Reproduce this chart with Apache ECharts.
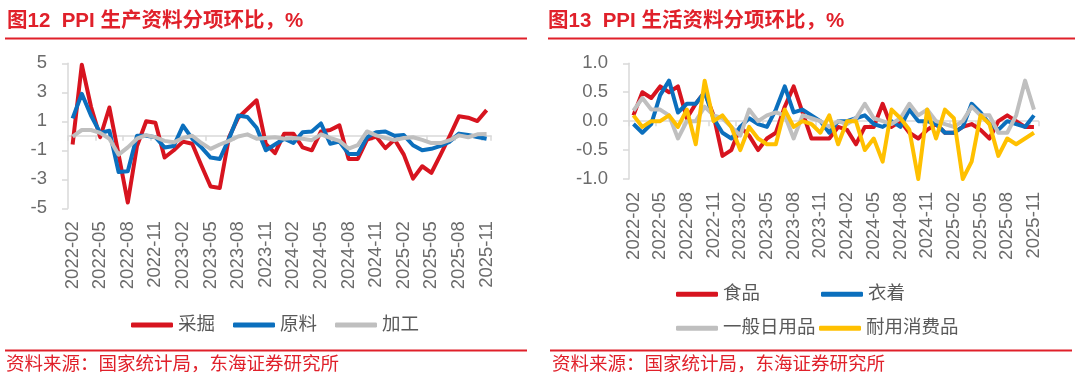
<!DOCTYPE html>
<html>
<head>
<meta charset="utf-8">
<script src="https://cdn.jsdelivr.net/npm/echarts@6/dist/echarts.min.js"></script>
<style>
html,body{margin:0;padding:0;background:#ffffff;}
#chart{width:1080px;height:381px;}
</style>
</head>
<body>
<div id="chart"></div>
<script>
// ---------- data ----------
const months = [
  '2022-02','2022-03','2022-04','2022-05','2022-06','2022-07','2022-08','2022-09','2022-10','2022-11','2022-12',
  '2023-01','2023-02','2023-03','2023-04','2023-05','2023-06','2023-07','2023-08','2023-09','2023-10','2023-11','2023-12',
  '2024-01','2024-02','2024-03','2024-04','2024-05','2024-06','2024-07','2024-08','2024-09','2024-10','2024-11','2024-12',
  '2025-01','2025-02','2025-03','2025-04','2025-05','2025-06','2025-07','2025-08','2025-09','2025-10','2025-11'
];

// 图12 PPI 生产资料分项环比 (%)
const mining     = [-0.6, 4.9, 2.0, -0.1, 1.95, -1.3, -4.6, -0.7, 1.0, 0.9, -1.5, -1.0, -0.4, -0.55, -2.05, -3.5, -3.6, -0.1, 1.25, 1.85, 2.45, -0.55, -1.2, 0.15, 0.15, -0.8, -1.0, 0.3, 0.4, 0.72, -1.6, -1.6, -0.27, -0.05, -0.85, -0.25, -1.3, -2.95, -2.1, -2.55, -1.3, 0.0, 1.35, 1.25, 1.02, 1.77];
const rawMat     = [1.2, 2.9, 1.4, 0.2, 0.35, -2.5, -2.45, 0.0, 0.0, -0.1, -0.8, -0.7, 0.7, -0.2, -0.8, -1.5, -1.6, -0.2, 1.4, 1.3, 0.55, -1.0, -0.6, -0.2, -0.5, 0.25, 0.3, 0.85, -0.55, -0.4, -1.25, -1.25, -0.1, 0.25, 0.3, 0.0, 0.05, -0.65, -1.0, -0.9, -0.7, -0.4, 0.15, 0.05, -0.08, -0.2];
const processing = [-0.05, 0.4, 0.4, 0.2, -0.2, -1.3, -0.8, -0.2, 0.05, -0.1, -0.35, -0.45, -0.15, 0.0, -0.5, -0.9, -0.6, -0.35, -0.05, 0.1, -0.2, -0.15, -0.1, -0.2, -0.15, -0.2, -0.3, 0.1, -0.15, -0.35, -0.88, -0.64, 0.3, 0.03, -0.15, -0.3, -0.15, -0.1, -0.28, -0.5, -0.5, -0.3, 0.03, -0.1, 0.1, 0.12];

// 图13 PPI 生活资料分项环比 (%)
const food     = [0.1, 0.5, 0.4, 0.6, 0.5, 0.6, 0.05, 0.3, 0.5, 0.1, -0.6, -0.5, -0.1, -0.25, -0.5, -0.3, -0.2, 0.25, 0.6, 0.15, -0.3, -0.3, -0.3, -0.1, -0.15, -0.4, -0.1, -0.1, 0.3, -0.1, 0.0, -0.2, -0.3, -0.15, -0.05, -0.2, -0.2, -0.1, -0.05, -0.15, -0.3, 0.0, 0.1, 0.0, -0.1, -0.1];
const clothing = [-0.05, -0.2, -0.05, 0.45, 0.7, 0.15, 0.3, 0.3, 0.5, 0.05, -0.2, -0.3, -0.1, 0.05, -0.05, -0.1, 0.2, 0.6, 0.15, 0.2, 0.1, 0.0, -0.2, 0.0, 0.0, 0.05, 0.1, -0.05, -0.1, 0.0, -0.1, 0.2, 0.0, 0.0, -0.05, -0.2, -0.2, -0.1, 0.3, 0.15, -0.05, -0.15, 0.0, -0.05, -0.1, 0.1];
const dailyUse = [0.18, 0.4, 0.2, 0.2, 0.1, -0.3, 0.0, 0.0, 0.25, 0.1, 0.05, -0.1, -0.25, 0.2, 0.0, 0.1, 0.15, 0.1, -0.3, 0.1, 0.05, 0.0, -0.1, 0.0, -0.05, 0.05, 0.3, 0.05, 0.0, -0.05, 0.05, 0.3, 0.1, 0.2, 0.0, -0.05, -0.1, 0.0, 0.25, 0.1, 0.1, -0.2, -0.2, 0.1, 0.7, 0.2];
const durable  = [0.1, -0.1, 0.0, 0.0, 0.1, -0.1, 0.2, -0.4, 0.7, 0.0, 0.1, -0.1, -0.5, -0.1, -0.3, -0.4, -0.4, 0.2, -0.1, 0.0, -0.05, -0.2, 0.1, -0.4, 0.0, 0.0, -0.5, -0.3, -0.7, 0.2, 0.05, -0.15, -1.0, 0.2, -0.3, 0.2, 0.05, -1.0, -0.7, 0.1, -0.05, -0.6, -0.3, -0.4, -0.3, -0.2];

const leftNames  = ['采掘', '原料', '加工'];
const rightNames = ['食品', '衣着', '一般日用品', '耐用消费品'];
const titles  = ['图12  PPI 生产资料分项环比，%', '图13  PPI 生活资料分项环比，%'];
const sourceText = '资料来源：国家统计局，东海证券研究所';

// ---------- styles ----------
const RED = '#d7141f', BLUE = '#0b6fbd', GREY = '#bfbfbf', YELLOW = '#ffc000';
const ACCENT = '#e0202a';
const AXIS = '#d9d9d9';
const LABEL = '#6b6b6b';
const LATIN = '"Liberation Sans", "Noto Sans CJK SC", sans-serif';
const FS = 18.5;

function catAxisLabels(gridIndex) {
  return {
    gridIndex: gridIndex, type: 'category', data: months, boundaryGap: true, position: 'bottom',
    axisLine: { show: false, onZero: false }, axisTick: { show: false },
    axisLabel: { interval: 2, rotate: 90, margin: 13, fontSize: FS, color: LABEL, fontFamily: LATIN },
    splitLine: { show: false }
  };
}
function catAxisZero(gridIndex) {
  return {
    gridIndex: gridIndex, type: 'category', data: months, boundaryGap: true, position: 'bottom',
    axisLine: { show: true, onZero: true, lineStyle: { color: AXIS, width: 1.5 } },
    axisTick: { show: true, interval: 2, length: 5, lineStyle: { color: AXIS, width: 1.5 } },
    axisLabel: { show: false }, splitLine: { show: false }
  };
}
function valAxis(gridIndex, min, max, interval, fmt) {
  return {
    gridIndex: gridIndex, type: 'value', min: min, max: max, interval: interval,
    axisLine: { show: true, lineStyle: { color: AXIS, width: 1.5 } },
    axisTick: { show: true, length: 6, lineStyle: { color: AXIS, width: 1.5 } },
    axisLabel: { margin: 21, fontSize: FS, color: LABEL, fontFamily: LATIN, formatter: fmt },
    splitLine: { show: false }
  };
}
function lineSeries(name, data, color, xi, yi) {
  return {
    type: 'line', name: name, data: data, xAxisIndex: xi, yAxisIndex: yi,
    symbol: 'none', smooth: false,
    lineStyle: { width: 4, color: color, join: 'round' },
    itemStyle: { color: color }
  };
}
function legendAt(names, left, top, gap) {
  return {
    data: names, left: left, top: top, orient: 'horizontal',
    icon: 'roundRect', itemWidth: 42, itemHeight: 5, itemGap: gap,
    textStyle: { fontSize: FS, color: '#595959', fontFamily: LATIN, lineHeight: 20 },
    selectedMode: false
  };
}
function text(str, x, y, font, fill) {
  return { type: 'text', x: x, y: y, silent: true,
    style: { text: str, font: font, fill: fill, verticalAlign: 'middle', textVerticalAlign: 'middle' } };
}
function bar(x, y, w, h) {
  return { type: 'rect', silent: true, shape: { x: x, y: y, width: w, height: h }, style: { fill: ACCENT } };
}

const chart = echarts.init(document.getElementById('chart'), null, { renderer: 'canvas' });
chart.setOption({
  animation: false,
  backgroundColor: '#ffffff',
  textStyle: { fontFamily: LATIN },
  grid: [
    { left: 68, top: 63.3, width: 423.2, height: 145, outerBoundsMode: 'none', containLabel: false },
    { left: 629, top: 63.3, width: 409.4, height: 115.7, outerBoundsMode: 'none', containLabel: false }
  ],
  xAxis: [catAxisLabels(0), catAxisZero(0), catAxisLabels(1), catAxisZero(1)],
  yAxis: [
    valAxis(0, -5, 5, 2, function (v) { return String(v); }),
    valAxis(1, -1, 1, 0.5, function (v) { return v.toFixed(1); })
  ],
  legend: [
    legendAt(leftNames, 126, 310, 18),
    legendAt([rightNames[0]], 671, 279.3, 10),
    legendAt([rightNames[1]], 816, 279.3, 10),
    legendAt([rightNames[2]], 671, 313.3, 10),
    legendAt([rightNames[3]], 814, 313.3, 10)
  ],
  series: [
    lineSeries(leftNames[0], mining, RED, 0, 0),
    lineSeries(leftNames[1], rawMat, BLUE, 0, 0),
    lineSeries(leftNames[2], processing, GREY, 0, 0),
    lineSeries(rightNames[0], food, RED, 2, 1),
    lineSeries(rightNames[1], clothing, BLUE, 2, 1),
    lineSeries(rightNames[2], dailyUse, GREY, 2, 1),
    lineSeries(rightNames[3], durable, YELLOW, 2, 1)
  ],
  graphic: [
    text(titles[0], 7, 21, 'bold 20.5px ' + LATIN, ACCENT),
    text(titles[1], 548, 21, 'bold 20.5px ' + LATIN, ACCENT),
    bar(5, 37.5, 522, 2),
    bar(548, 37.5, 527, 2),
    bar(5, 349.5, 522, 2),
    bar(550, 349.5, 522, 2),
    text(sourceText, 6, 365, FS + 'px ' + LATIN, ACCENT),
    text(sourceText, 552, 365, FS + 'px ' + LATIN, ACCENT)
  ]
});
</script>
</body>
</html>
